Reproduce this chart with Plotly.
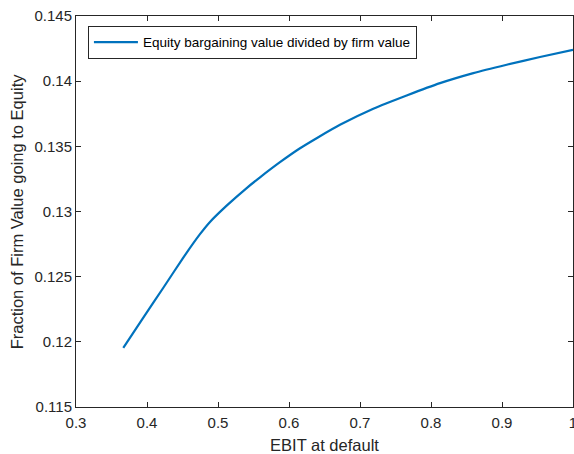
import plotly.graph_objects as go

ebit_default = [0.3666, 0.3948, 0.4230, 0.4511, 0.4746, 0.4887, 0.5122, 0.5404, 0.5592,
                0.5873, 0.6155, 0.6413, 0.6718, 0.7187, 0.7657, 0.8127, 0.8596, 0.9066, 0.9535, 1.0]
equity_fraction = [0.11954, 0.12185, 0.12415, 0.12646, 0.12826, 0.12920, 0.13045, 0.13180, 0.13262,
                   0.13378, 0.13485, 0.13570, 0.13665, 0.13788, 0.13890, 0.13985, 0.14062, 0.14126, 0.14185, 0.14241]
series_name = "Equity bargaining value divided by firm value"
x_ticks = [0.3, 0.4, 0.5, 0.6, 0.7, 0.8, 0.9, 1.0]
x_ticklabels = ["0.3", "0.4", "0.5", "0.6", "0.7", "0.8", "0.9", "1"]
y_ticks = [0.115, 0.12, 0.125, 0.13, 0.135, 0.14, 0.145]
y_ticklabels = ["0.115", "0.12", "0.125", "0.13", "0.135", "0.14", "0.145"]
x_title = "EBIT at default"
y_title = "Fraction of Firm Value going to Equity"

FONT = "Liberation Sans, Arial, Helvetica, sans-serif"
AX = "#262626"

fig = go.Figure()
fig.add_trace(go.Scatter(
    x=ebit_default, y=equity_fraction, mode="lines", name=series_name,
    line=dict(color="#0072BD", width=2.2, shape="spline", smoothing=0.5),
))

axis_common = dict(
    showline=True, linecolor=AX, linewidth=1, mirror="ticks",
    ticks="inside", ticklen=5, tickcolor=AX, tickwidth=1,
    showgrid=False, zeroline=False, automargin=False,
    ticklabeloverflow="allow",
    tickfont=dict(family=FONT, size=15, color=AX),
)

fig.update_layout(
    width=574, height=454,
    margin=dict(l=76, r=1, t=16, b=47),
    paper_bgcolor="white", plot_bgcolor="white",
    font=dict(family=FONT, color=AX),
    showlegend=True,
    legend=dict(
        x=0.024, y=0.975, xanchor="left", yanchor="top",
        bgcolor="white", bordercolor=AX, borderwidth=1,
        itemwidth=44,
        font=dict(family=FONT, size=13.5, color="black"),
    ),
    xaxis=dict(
        range=[0.3, 1.0], tickvals=x_ticks, ticktext=x_ticklabels,
        ticklabelstandoff=2,
        title=dict(text=x_title, font=dict(family=FONT, size=16.5, color=AX)),
        **axis_common,
    ),
    yaxis=dict(
        range=[0.115, 0.145], tickvals=y_ticks, ticktext=y_ticklabels,
        **axis_common,
    ),
    annotations=[dict(
        text=y_title, textangle=-90, xref="paper", yref="paper",
        x=-0.119, y=0.5, xanchor="center", yanchor="middle", showarrow=False,
        font=dict(family=FONT, size=16.5, color=AX),
    )],
)

fig.write_html(
    "out.html",
    config={"displayModeBar": False},
    post_script="document.body.style.margin='0';document.body.style.overflow='hidden';",
)
